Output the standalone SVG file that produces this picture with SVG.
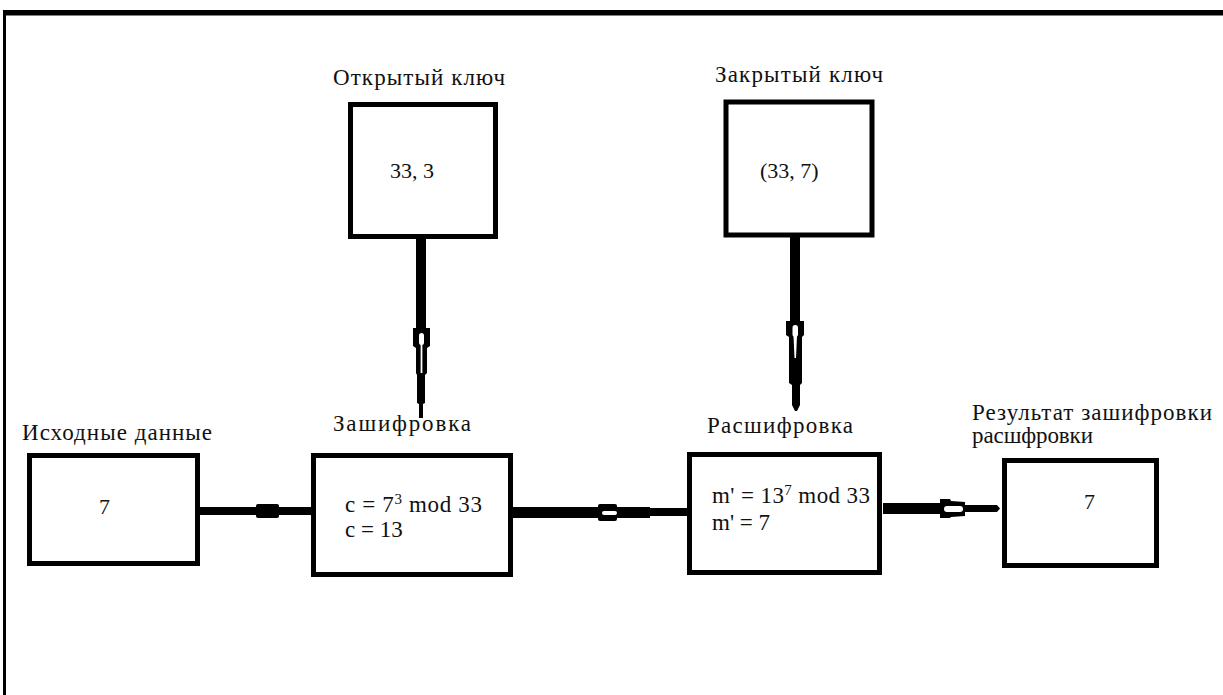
<svg xmlns="http://www.w3.org/2000/svg" width="1223" height="695" viewBox="0 0 1223 695" font-family="Liberation Serif, Times New Roman, serif">
<style>
.box{fill:#fff;stroke:#000;stroke-width:5}
.t{font-family:'Liberation Serif','Times New Roman',serif;font-size:23px;fill:#111}
.n{font-family:'Liberation Serif','Times New Roman',serif;font-size:22px;fill:#111}
.ink{fill:#000}
.slot{fill:#fff}
</style>
<rect width="1223" height="695" fill="#fff"/>
<g id="frame">
<rect x="3" y="10" width="1220" height="5.5" fill="#000"/>
<rect x="3" y="10" width="3" height="685" fill="#000"/>
</g>
<g id="connectors">
<rect class="ink" x="416" y="236" width="10" height="92"/>
<polygon class="ink" points="413,328 430,328 430,346 427,348 427,373 425,375 425,403 423,404 423,418 419,418 419,404 417,403 417,375 416,373 416,348 413,346"/>
<rect class="slot" x="419" y="333" width="5" height="12" rx="2.5"/>
<rect class="slot" x="420.6" y="344" width="1.8" height="29"/>
<rect class="ink" x="790" y="235" width="10" height="86"/>
<polygon class="ink" points="786,321 804,321 804,335 802,337 802,383 800,385 800,405 797,411 795,411 792,405 792,385 789,383 789,337 786,335"/>
<rect class="slot" x="792.5" y="325" width="5.5" height="12" rx="2.7"/>
<polygon class="slot" points="793.5,336 797,336 796,358 794.5,358"/>
<rect class="ink" x="194" y="507" width="128" height="8" rx="3"/>
<rect class="ink" x="256" y="504" width="23" height="14" rx="2"/>
<rect class="ink" x="513" y="507" width="137" height="11"/>
<rect class="ink" x="598" y="504" width="19" height="17" rx="2"/>
<rect class="slot" x="602" y="511" width="15" height="4" rx="2"/>
<rect class="ink" x="650" y="508" width="38" height="8"/>
<rect class="ink" x="883" y="503" width="57" height="11"/>
<polygon class="ink" points="940,499 950,499 951,501 965,502 965,505 997,505 1000,508.5 997,512 965,512 965,516 951,517 950,518 940,518"/>
<rect class="slot" x="944" y="506" width="19" height="6" rx="3"/>
</g>
<g id="open-key">
<rect class="box" x="350.5" y="104.5" width="145" height="132"/>
<text class="t" x="333" y="85" textLength="172" lengthAdjust="spacing">Открытый ключ</text>
<text class="n" x="390" y="178">33, 3</text>
</g>
<g id="private-key">
<rect class="box" x="726" y="102" width="146" height="133"/>
<text class="t" x="715" y="82" textLength="168" lengthAdjust="spacing">Закрытый ключ</text>
<text class="n" x="760" y="178">(33, 7)</text>
</g>
<g id="source">
<rect class="box" x="29.5" y="455.5" width="168" height="108"/>
<text class="t" x="22" y="440" textLength="190" lengthAdjust="spacing">Исходные данные</text>
<text class="n" x="99" y="514">7</text>
</g>
<g id="encrypt">
<rect class="box" x="313.5" y="455.5" width="197" height="119"/>
<text class="t" x="333" y="431" textLength="138" lengthAdjust="spacing">Зашифровка</text>
<text class="t" x="345" y="512" textLength="137" lengthAdjust="spacing">c = 7<tspan font-size="15" dy="-8">3</tspan><tspan dy="8"> mod 33</tspan></text>
<text class="t" x="345" y="537">c = 13</text>
</g>
<g id="decrypt">
<rect class="box" x="689.5" y="454.5" width="190" height="118"/>
<text class="t" x="707" y="433" textLength="146" lengthAdjust="spacing">Расшифровка</text>
<text class="t" x="712" y="503" textLength="158" lengthAdjust="spacing">m' = 13<tspan font-size="15" dy="-8">7</tspan><tspan dy="8"> mod 33</tspan></text>
<text class="t" x="712" y="530">m' = 7</text>
</g>
<g id="result">
<rect class="box" x="1004.5" y="460.5" width="152" height="105"/>
<text class="t" x="972" y="420" textLength="240" lengthAdjust="spacing">Результат зашифровки</text>
<text class="t" x="972" y="443" textLength="121" lengthAdjust="spacing">расшфровки</text>
<text class="n" x="1084" y="509">7</text>
</g>
</svg>
